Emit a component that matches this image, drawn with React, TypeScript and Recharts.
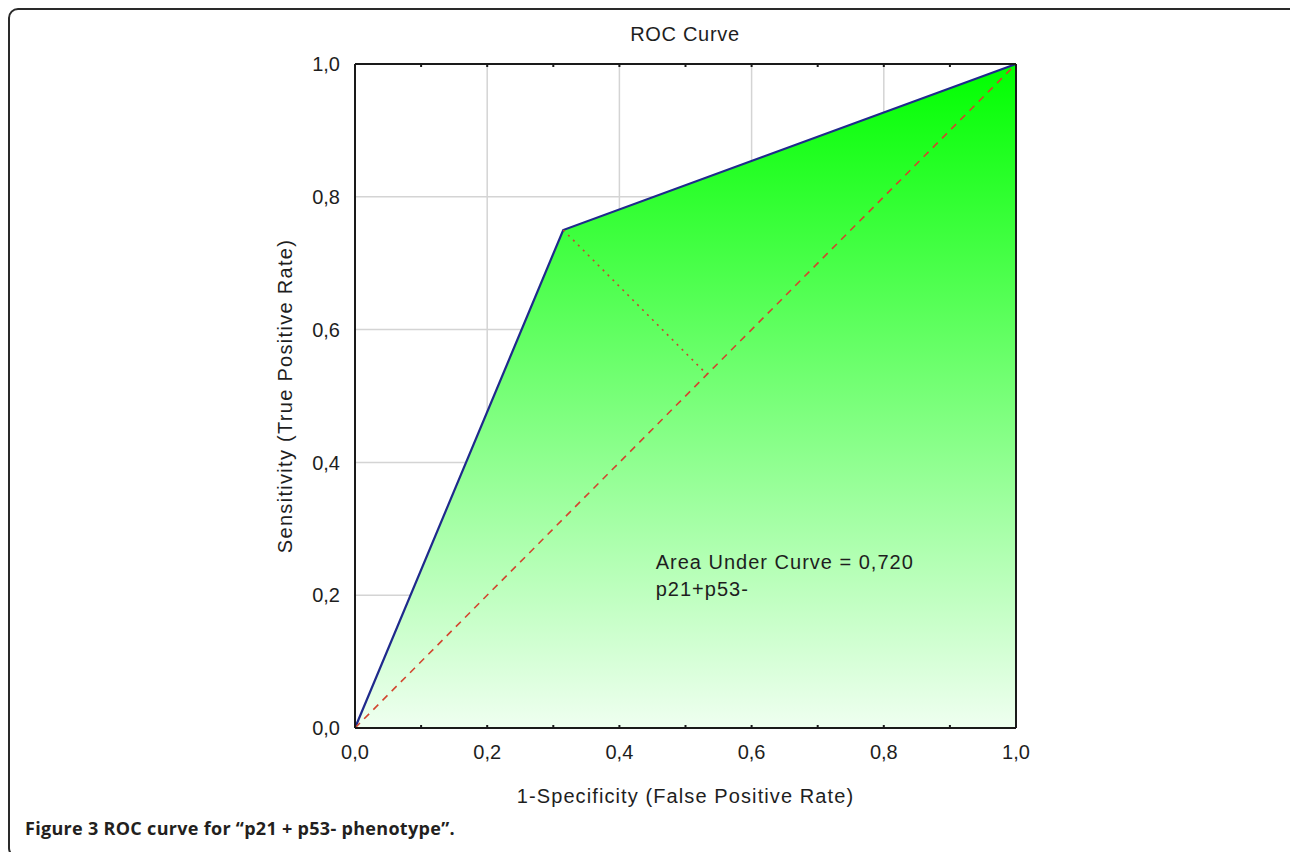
import React from 'react';
import {
  ComposedChart,
  Area,
  XAxis,
  YAxis,
  CartesianGrid,
  ReferenceLine,
  ReferenceDot,
  Label,
} from 'recharts';

// ROC points (1-specificity, sensitivity)
const fpr = [0, 0.315, 1];
const tpr = [0, 0.75, 1];

const majorTicks = [0, 0.2, 0.4, 0.6, 0.8, 1];
const minorTicks = [0, 0.1, 0.2, 0.3, 0.4, 0.5, 0.6, 0.7, 0.8, 0.9, 1];

// chance line and the distance from the cut point to it
const chanceLine = [{ x: 0, y: 0 }, { x: 1, y: 1 }];
const cutPoint = { x: 0.315, y: 0.75 };
const cutProjection = { x: 0.5325, y: 0.5325 };

const aucText = 'Area Under Curve = 0,720';
const groupText = 'p21+p53-';

const rocData = fpr.map((x, i) => ({ x, y: tpr[i] }));

const FONT = '"Liberation Sans", Arial, sans-serif';
const fmt = (v: number) => v.toFixed(1).replace('.', ',');

const tickStyle = { fill: '#1e1e1e', fontSize: 20, fontFamily: FONT };
const frame = { stroke: '#1a1a1a', strokeWidth: 2 };

const YTitle = ({ viewBox }: any) => {
  const x = viewBox.x + 10;
  const y = viewBox.y + viewBox.height / 2;
  return (
    <text
      x={x}
      y={y}
      transform={`rotate(-90, ${x}, ${y})`}
      textAnchor="middle"
      dominantBaseline="central"
      fill="#1e1e1e"
      fontSize={20}
      letterSpacing={1.3}
      fontFamily={FONT}
    >
      Sensitivity (True Positive Rate)
    </text>
  );
};

const XTitle = ({ viewBox }: any) => (
  <text
    x={viewBox.x + viewBox.width / 2}
    y={viewBox.y + 68}
    textAnchor="middle"
    dominantBaseline="central"
    fill="#1e1e1e"
    fontSize={20}
    letterSpacing={1.1}
    fontFamily={FONT}
  >
    1-Specificity (False Positive Rate)
  </text>
);

const AucNote = ({ viewBox }: any) => (
  <text x={viewBox.x} y={viewBox.y} fill="#1e1e1e" fontSize={20} letterSpacing={1} fontFamily={FONT}>
    <tspan x={viewBox.x}>{aucText}</tspan>
    <tspan x={viewBox.x} dy={27}>{groupText}</tspan>
  </text>
);

export default function App() {
  return (
    <div
      style={{
        position: 'absolute',
        left: 0,
        top: 0,
        width: 1290,
        height: 852,
        overflow: 'hidden',
        background: '#fff',
      }}
    >
      <div
        style={{
          position: 'absolute',
          left: 8,
          top: 8,
          width: 1300,
          height: 850,
          border: '2px solid #2a2a2a',
          borderRadius: 10,
          boxSizing: 'border-box',
        }}
      />
      <div
        style={{
          position: 'absolute',
          left: 0,
          width: 1370,
          top: 22,
          textAlign: 'center',
          fontFamily: FONT,
          fontSize: 20,
          letterSpacing: 0.7,
          color: '#1e1e1e',
          lineHeight: '24px',
        }}
      >
        ROC Curve
      </div>

      <div style={{ position: 'absolute', left: 0, top: 0 }}>
        <ComposedChart
          width={1290}
          height={852}
          data={rocData}
          margin={{ top: 64, right: 274, left: 275, bottom: 44 }}
        >
          <defs>
            <linearGradient id="rocFill" x1="0" y1="0" x2="0" y2="1">
              <stop offset="0%" stopColor="#00ff00" />
              <stop offset="100%" stopColor="#effff0" />
            </linearGradient>
          </defs>

          <CartesianGrid stroke="#d4d4d4" strokeWidth={1.5} />

          <XAxis
            dataKey="x"
            type="number"
            domain={[0, 1]}
            ticks={majorTicks}
            tickFormatter={fmt}
            tick={tickStyle}
            tickLine={false}
            tickSize={0}
            tickMargin={17}
            axisLine={frame}
            height={80}
            interval={0}
          >
            <Label content={<XTitle />} />
          </XAxis>
          <XAxis
            xAxisId="bottomTicks"
            dataKey="x"
            type="number"
            domain={[0, 1]}
            ticks={minorTicks}
            tickFormatter={() => ''}
            orientation="bottom"
            mirror
            tickSize={3}
            tickLine={{ stroke: '#1a1a1a', strokeWidth: 2 }}
            axisLine={false}
            interval={0}
          />
          <XAxis
            xAxisId="top"
            dataKey="x"
            type="number"
            domain={[0, 1]}
            ticks={minorTicks}
            tickFormatter={() => ''}
            orientation="top"
            mirror
            tickSize={3}
            tickLine={{ stroke: '#1a1a1a', strokeWidth: 2 }}
            axisLine={frame}
            interval={0}
          />

          <YAxis
            type="number"
            domain={[0, 1]}
            ticks={majorTicks}
            tickFormatter={fmt}
            tick={tickStyle}
            tickLine={false}
            tickSize={0}
            tickMargin={15}
            axisLine={frame}
            width={80}
            interval={0}
          >
            <Label content={<YTitle />} />
          </YAxis>
          <YAxis
            yAxisId="leftTicks"
            type="number"
            domain={[0, 1]}
            ticks={minorTicks}
            tickFormatter={() => ''}
            orientation="left"
            mirror
            tickSize={3}
            tickLine={{ stroke: '#1a1a1a', strokeWidth: 2 }}
            axisLine={false}
            interval={0}
          />
          <YAxis
            yAxisId="right"
            type="number"
            domain={[0, 1]}
            ticks={minorTicks}
            tickFormatter={() => ''}
            orientation="right"
            mirror
            tickSize={3}
            tickLine={{ stroke: '#1a1a1a', strokeWidth: 2 }}
            axisLine={frame}
            interval={0}
          />

          <Area
            type="linear"
            dataKey="y"
            stroke="#1f2a8c"
            strokeWidth={2.2}
            fill="url(#rocFill)"
            fillOpacity={1}
            dot={false}
            activeDot={false}
            isAnimationActive={false}
          />

          <ReferenceLine
            segment={chanceLine}
            stroke="#d2452e"
            strokeWidth={1.6}
            strokeDasharray="7 6"
            ifOverflow="visible"
          />
          <ReferenceLine
            segment={[cutPoint, cutProjection]}
            stroke="#c8472e"
            strokeWidth={1.6}
            strokeDasharray="2 5"
            ifOverflow="visible"
          />

          <ReferenceDot
            x={0.455}
            y={0.2395}
            r={0}
            fill="none"
            stroke="none"
            label={<AucNote />}
          />
        </ComposedChart>
      </div>

      <div
        style={{
          position: 'absolute',
          left: 25,
          top: 815,
          fontFamily: '"Open Sans", sans-serif',
          fontSize: 18,
          fontWeight: 700,
          letterSpacing: 0.3,
          color: '#231f20',
          whiteSpace: 'nowrap',
          lineHeight: '26px',
        }}
      >
        Figure 3 ROC curve for “p21 + p53- phenotype”.
      </div>
    </div>
  );
}
